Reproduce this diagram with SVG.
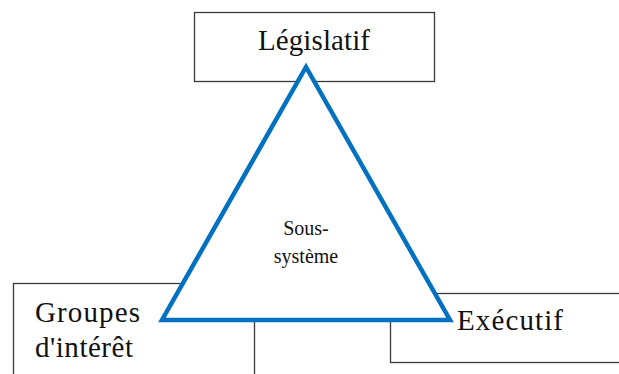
<svg xmlns="http://www.w3.org/2000/svg" width="619" height="374" viewBox="0 0 619 374">
<style>
.box{fill:#fff;stroke:#3a3a3a;stroke-width:1.3}
.t{fill:#111}
.tri{fill:#fff;stroke:#0070C0;stroke-width:4.5;stroke-linejoin:miter}
</style>
<rect width="619" height="374" fill="#fff"/>
<g font-family="'Liberation Serif', 'Times New Roman', 'DejaVu Serif', serif">
<g id="legislatif"><rect class="box" x="194.5" y="12.5" width="240" height="69"/>
<text class="t" x="258" y="50" font-size="29" textLength="112">Législatif</text></g>
<g id="groupes"><rect class="box" x="13.5" y="283.5" width="241" height="100"/>
<text class="t" x="35" y="322" font-size="29" textLength="105">Groupes</text>
<text class="t" x="35" y="357" font-size="29" textLength="98">d'intérêt</text></g>
<g id="executif"><rect class="box" x="390.5" y="293.5" width="240" height="69"/>
<text class="t" x="457" y="330" font-size="29" textLength="106">Exécutif</text></g>
<g id="connectors"><polygon class="tri" points="306,67 162,320 450,320"/></g>
<g id="soussysteme"><text class="t" x="306" y="235" font-size="20" text-anchor="middle">Sous-</text>
<text class="t" x="306" y="263" font-size="20" text-anchor="middle">système</text></g>
</g>
</svg>
